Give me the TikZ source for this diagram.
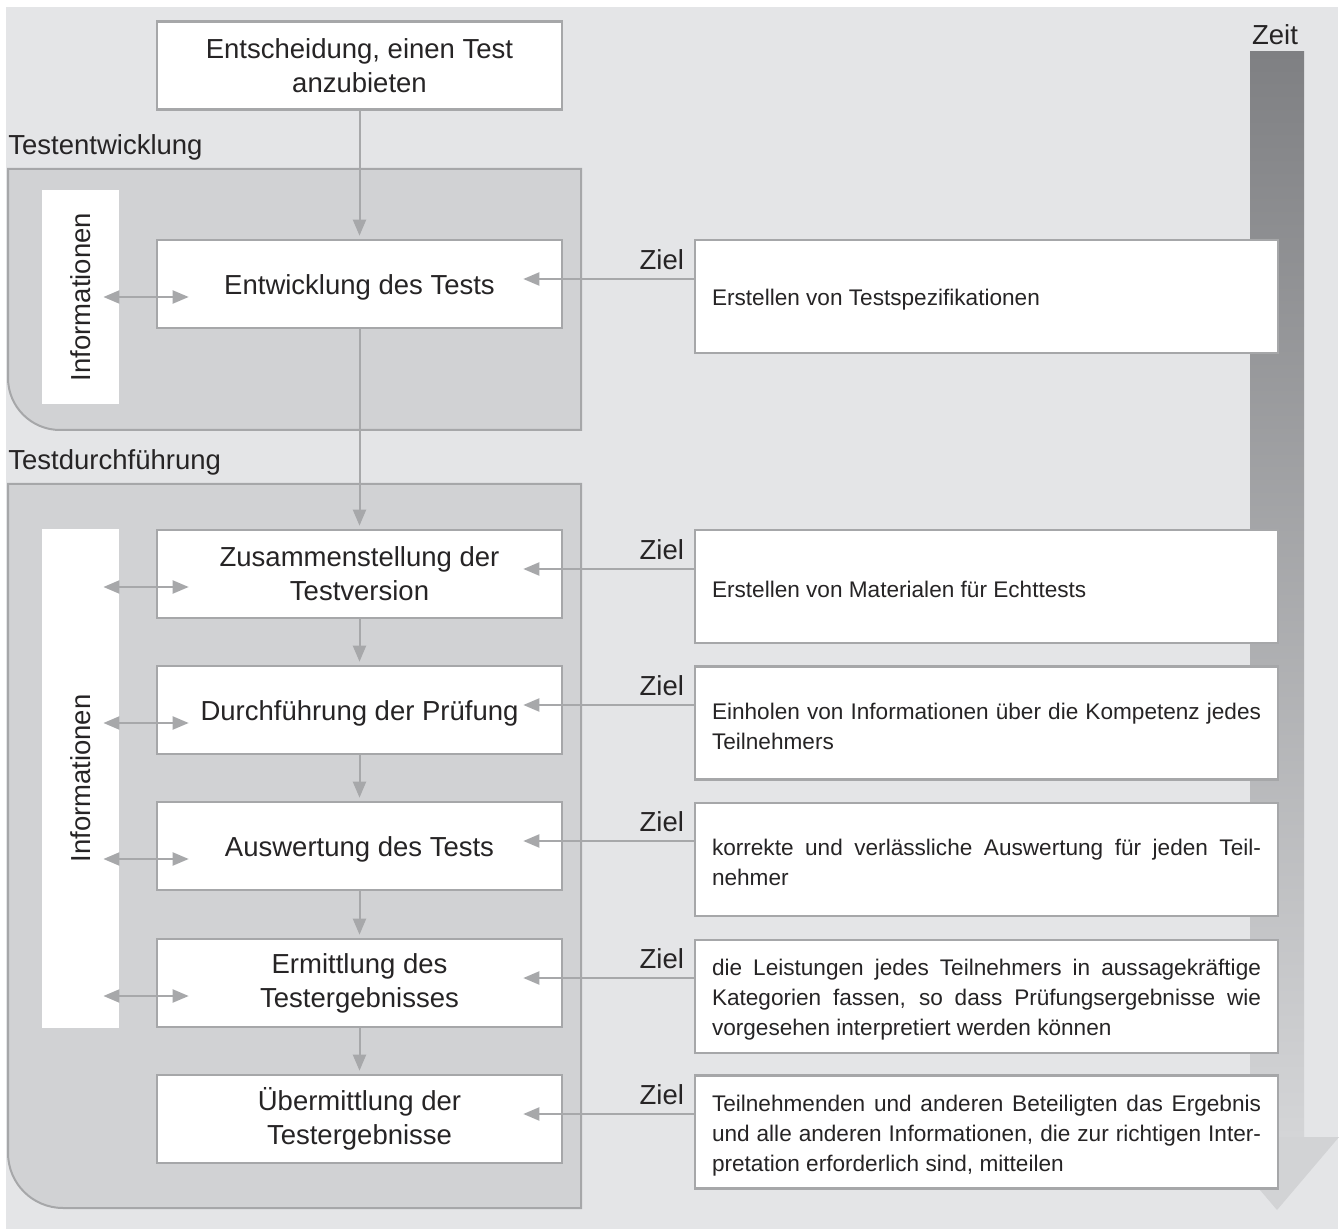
\documentclass[tikz,border=0pt]{standalone}
\usepackage{fontspec}
\setmainfont{Liberation Sans}
\usetikzlibrary{arrows.meta,calc}

\definecolor{bgc}{HTML}{E4E5E7}
\definecolor{panelc}{HTML}{D1D2D4}
\definecolor{bordc}{HTML}{A6A7A9}
\definecolor{linec}{HTML}{A7A8AA}
\definecolor{txtc}{HTML}{262425}
\definecolor{zeitdark}{HTML}{7F8083}
\definecolor{zeitlight}{HTML}{D4D5D7}
\definecolor{zeithead}{HTML}{D2D3D5}

\newcommand\boxfont{\fontsize{13.75pt}{17pt}\selectfont}
\newcommand\goalfont{\fontsize{11.3pt}{15pt}\selectfont}

\begin{document}
\begin{tikzpicture}[x=0.5pt,y=-0.5pt,
  text=txtc,
  mainbox/.style={draw=bordc, line width=1.3pt, fill=white,
    minimum width=202.5pt, minimum height=44pt, inner sep=0pt,
    align=center, font=\boxfont,
    execute at begin node={\rule{0pt}{13pt}}},
  goalbox/.style={draw=bordc, line width=1.2pt, fill=white,
    text width=274.5pt, minimum height=56.5pt, inner xsep=8.5pt,
    inner ysep=0pt, align=justify, font=\goalfont,
    execute at begin node={\rule{0pt}{11.5pt}}},
  infostrip/.style={fill=white, rotate=90, inner sep=0pt,
    minimum height=38.5pt, font=\boxfont},
  lbl/.style={font=\boxfont, inner sep=0pt},
  arr/.style={draw=linec, line width=1pt, -{Triangle[length=8pt,width=6.5pt]}},
  dbl/.style={draw=linec, line width=1pt,
    {Triangle[length=8pt,width=6.5pt]}-{Triangle[length=8pt,width=6.5pt]}},
  panel/.style={fill=panelc, draw=bordc, line width=1pt}
]
\useasboundingbox (0,0) rectangle (1344,1229);
\fill[bgc] (6,7) rectangle (1338,1229);

% time axis
\shade[top color=zeitdark, bottom color=zeitlight] (1250,52) rectangle (1304,1137);
\fill[zeithead] (1215,1137) -- (1339,1137) -- (1277,1210) -- cycle;
\node[lbl] (zeit) at (1275,35) {Zeit};

% phase panels
\node[lbl, anchor=base west] (phase1) at (8,155) {Testentwicklung};
\draw[panel] (8,169) -- (581,169) -- (581,430) -- (60,430)
  .. controls (31.3,430) and (8,406.7) .. (8,378) -- cycle;
\node[lbl, anchor=base west] (phase2) at (8,470) {Testdurchführung};
\draw[panel] (8,484) -- (581,484) -- (581,1208) -- (63,1208)
  .. controls (32.6,1208) and (8,1183.4) .. (8,1153) -- cycle;

% information strips
\node[infostrip, minimum width=107pt] (info1) at (80.5,297) {Informationen};
\node[infostrip, minimum width=249.5pt] (info2) at (80.5,778.5) {Informationen};

% process steps
\node[mainbox] (b0) at (359.5,65.5) {Entscheidung, einen Test\\anzubieten};
\node[mainbox] (m1) at (359.5,284) {Entwicklung des Tests};
\node[mainbox] (m2) at (359.5,574) {Zusammenstellung der\\Testversion};
\node[mainbox] (m3) at (359.5,710) {Durchführung der Prüfung};
\node[mainbox] (m4) at (359.5,846) {Auswertung des Tests};
\node[mainbox] (m5) at (359.5,983) {Ermittlung des\\Testergebnisses};
\node[mainbox] (m6) at (359.5,1119) {Übermittlung der\\Testergebnisse};

% goals
\node[goalbox] (r1) at (986.5,296.5) {Erstellen von Testspezifikationen};
\node[goalbox] (r2) at (986.5,586.5) {Erstellen von Materialen für Echttests};
\node[goalbox] (r3) at (986.5,723) {Einholen von Informationen über die Kompetenz jedes\linebreak Teilnehmers};
\node[goalbox] (r4) at (986.5,859.5) {korrekte und verlässliche Auswertung für jeden Teil-\linebreak nehmer};
\node[goalbox] (r5) at (986.5,996.5) {die Leistungen jedes Teilnehmers in aussagekräftige\linebreak Kategorien fassen, so dass Prüfungsergebnisse wie\linebreak vorgesehen interpretiert werden können};
\node[goalbox] (r6) at (986.5,1132) {Teilnehmenden und anderen Beteiligten das Ergebnis\linebreak und alle anderen Informationen, die zur richtigen Inter-\linebreak pretation erforderlich sind, mitteilen};

% flow
\draw[arr] (b0.south) -- ($(m1.north)+(0,-3)$);
\draw[arr] (m1.south) -- ($(m2.north)+(0,-3)$);
\foreach \a/\b in {m2/m3, m3/m4, m4/m5, m5/m6}
  \draw[arr] (\a.south) -- ($(\b.north)+(0,-3)$);

% goal links
\foreach \m/\r/\i in {m1/r1/1, m2/r2/2, m3/r3/3, m4/r4/4, m5/r5/5, m6/r6/6} {
  \draw[arr] ($(\r.west |- \m.east)+(0,-5)$) -- ($(\m.east)+(-40,-5)$);
  \node[lbl] (ziel\i) at ($(\r.west |- \m.east)+(-32,-24.5)$) {Ziel};
}

% information exchange
\draw[dbl] ($(info1.south |- m1.west)+(-16,13)$) -- ($(m1.west)+(33,13)$);
\foreach \m in {m2,m3,m4,m5}
  \draw[dbl] ($(info2.south |- \m.west)+(-16,13)$) -- ($(\m.west)+(33,13)$);
\end{tikzpicture}
\end{document}
